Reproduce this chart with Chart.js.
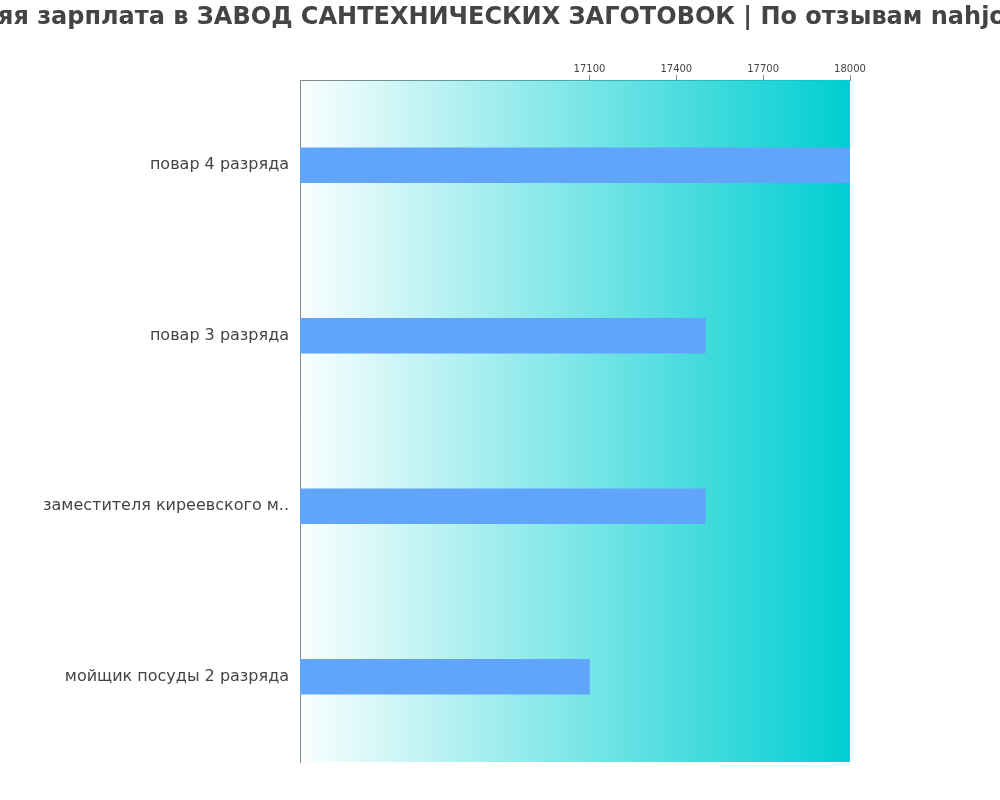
<!DOCTYPE html>
<html>
<head>
<meta charset="utf-8">
<script src="https://cdn.jsdelivr.net/npm/chart.js@4"></script>
<style>
  html, body { margin: 0; padding: 0; background: #fff; }
  #wrap { width: 1000px; height: 800px; }
</style>
</head>
<body>
<div id="wrap"><canvas id="salary-chart"></canvas></div>
<script>
// --- data ---
const titleText = 'Средняя зарплата в ЗАВОД САНТЕХНИЧЕСКИХ ЗАГОТОВОК | По отзывам nahjob.ru';
const categories = ['повар 4 разряда', 'повар 3 разряда', 'заместителя киреевского м..', 'мойщик посуды 2 разряда'];
const salaries = [18000, 17500, 17500, 17100];
const xTicks = [17100, 17400, 17700, 18000];
const xMin = 16100;
const xMax = 18000;

const fontFamily = '"DejaVu Sans"';

// gradient behind the bars
const areaGradient = {
    id: 'areaGradient',
    beforeDatasetsDraw(chart) {
        const { ctx, chartArea: a } = chart;
        const g = ctx.createLinearGradient(a.left, 0, a.right, 0);
        g.addColorStop(0, 'rgba(0, 206, 209, 0.02)');
        g.addColorStop(1, 'rgb(0, 206, 209)');
        ctx.save();
        ctx.fillStyle = g;
        ctx.fillRect(a.left, a.top, a.right - a.left, a.bottom - a.top);
        ctx.restore();
    }
};

// title is wider than the canvas, so draw it without Chart.js squeezing it
const wideTitle = {
    id: 'wideTitle',
    afterDraw(chart) {
        const { ctx, width } = chart;
        ctx.save();
        ctx.font = 'bold 24px ' + fontFamily;
        ctx.fillStyle = '#444';
        ctx.textAlign = 'center';
        ctx.textBaseline = 'alphabetic';
        ctx.fillText(titleText, width / 2 - 14, 24);
        ctx.restore();
    }
};

const ctx = document.getElementById('salary-chart');

new Chart(ctx, {
    type: 'bar',
    data: {
        labels: categories,
        datasets: [{
            data: salaries,
            backgroundColor: '#60a5fa',
            barThickness: 35
        }]
    },
    options: {
        indexAxis: 'y',
        responsive: true,
        maintainAspectRatio: false,
        animation: false,
        layout: { padding: { top: 50, right: 150, bottom: 38, left: 0 } },
        plugins: {
            legend: { display: false },
            tooltip: { enabled: false },
            title: { display: false }
        },
        scales: {
            x: {
                position: 'top',
                min: xMin,
                max: xMax,
                afterBuildTicks: (scale) => {
                    scale.ticks = xTicks.map(v => ({ value: v }));
                },
                afterFit: (scale) => { scale.height = 30; },
                border: { display: true, color: '#888' },
                grid: { drawOnChartArea: false, tickLength: 5, color: '#888' },
                ticks: {
                    color: '#444',
                    padding: 0,
                    font: { family: fontFamily, size: 10 },
                    callback: (v) => String(v)
                }
            },
            y: {
                afterFit: (scale) => { scale.width = 300; },
                border: { display: true, color: '#888' },
                grid: { display: false },
                ticks: {
                    color: '#444',
                    padding: 3,
                    font: { family: fontFamily, size: 16 }
                }
            }
        }
    },
    plugins: [areaGradient, wideTitle]
});
</script>
</body>
</html>
